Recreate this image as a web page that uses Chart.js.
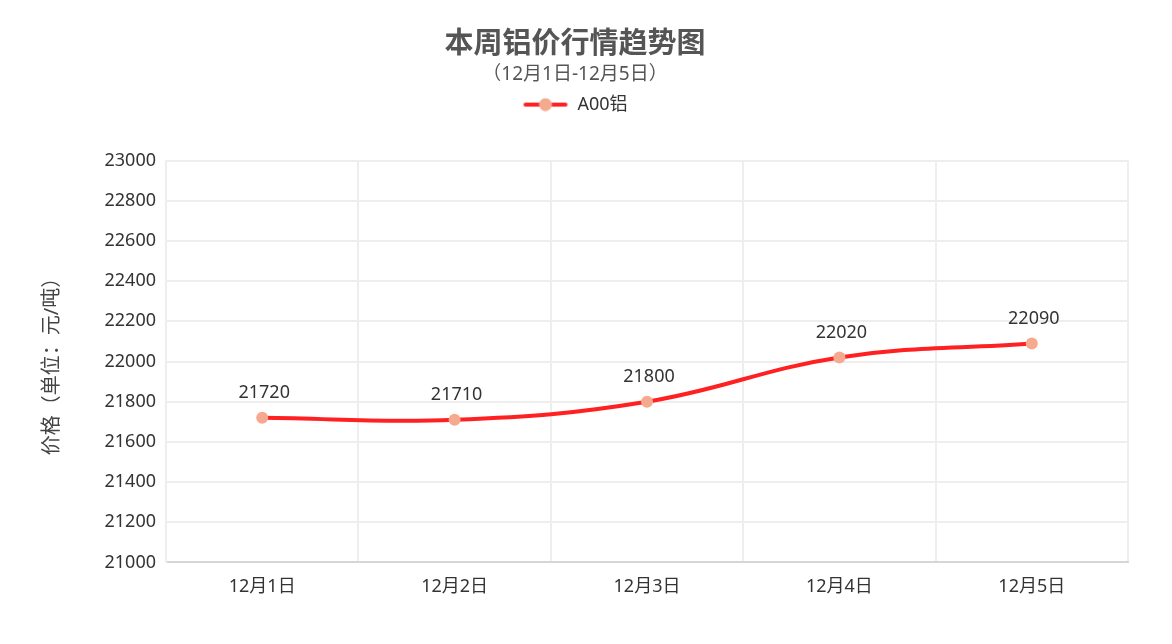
<!DOCTYPE html>
<html>
<head>
<meta charset="utf-8">
<script src="https://cdn.jsdelivr.net/npm/chart.js@4/dist/chart.umd.min.js"></script>
<style>
  html, body { margin: 0; padding: 0; background: #fff; }
  #wrap { width: 1150px; height: 644px; position: relative; }
</style>
</head>
<body>
<div id="wrap"><canvas id="priceChart"></canvas></div>
<script>
"use strict";

const days = ["12月1日", "12月2日", "12月3日", "12月4日", "12月5日"];
const prices = [21720, 21710, 21800, 22020, 22090];
const seriesName = "A00铝";
const yMin = 21000;
const yMax = 23000;
const yStep = 200;

const FONT = "'Noto Sans', 'Noto Sans CJK SC', sans-serif";
const LINE_RED = "#ff2121";
const DOT = "#f5aa90";

// legend marker: short line with a dot in the middle
function legendMarker() {
  const c = document.createElement("canvas");
  c.width = 46;
  c.height = 14;
  const g = c.getContext("2d");
  g.strokeStyle = LINE_RED;
  g.lineWidth = 4;
  g.lineCap = "round";
  g.beginPath();
  g.moveTo(3, 7);
  g.lineTo(43, 7);
  g.stroke();
  g.fillStyle = DOT;
  g.beginPath();
  g.arc(23, 7, 6.5, 0, Math.PI * 2);
  g.fill();
  return c;
}

const valueLabels = {
  id: "valueLabels",
  afterDatasetsDraw(chart) {
    const ctx = chart.ctx;
    const meta = chart.getDatasetMeta(0);
    ctx.save();
    ctx.font = "18px " + FONT;
    ctx.fillStyle = "#333";
    ctx.textAlign = "center";
    ctx.textBaseline = "bottom";
    meta.data.forEach((pt, i) => {
      ctx.fillText(String(prices[i]), pt.x + 2, pt.y - 16);
    });
    ctx.restore();
  }
};

// extra room under the legend so the plot starts lower
const legendGap = {
  id: "legendGap",
  beforeInit(chart) {
    const fit = chart.legend.fit;
    chart.legend.fit = function () {
      fit.call(this);
      this.height += 37;
    };
  }
};

function initPriceChart() {
  const ctx = document.getElementById("priceChart").getContext("2d");
  const marker = legendMarker();

  new Chart(ctx, {
    type: "line",
    data: {
      labels: days,
      datasets: [
        {
          label: seriesName,
          data: prices,
          borderColor: LINE_RED,
          borderWidth: 4,
          tension: 0.4,
          pointRadius: 6,
          pointBackgroundColor: DOT,
          pointBorderWidth: 0,
          pointStyle: "circle",
          fill: false
        },
      ],
    },
    plugins: [valueLabels, legendGap],
    options: {
      responsive: true,
      maintainAspectRatio: false,
      animation: false,
      layout: { padding: { top: 27, left: 22, right: 22, bottom: 32 } },
      plugins: {
        title: {
          display: true,
          text: "本周铝价行情趋势图",
          color: "#555",
          font: { family: FONT, size: 29, weight: "bold" },
          padding: { top: 0, bottom: 1 }
        },
        subtitle: {
          display: true,
          text: "（12月1日-12月5日）",
          color: "#555",
          font: { family: FONT, size: 19 },
          padding: { top: 0, bottom: 0 }
        },
        legend: {
          display: true,
          labels: {
            usePointStyle: true,
            pointStyle: marker,
            pointStyleWidth: 46,
            color: "#333",
            font: { family: FONT, size: 18 },
            padding: 10,
            generateLabels(chart) {
              return [{
                text: seriesName,
                pointStyle: marker,
                fontColor: "#333",
                hidden: false,
                datasetIndex: 0,
                lineWidth: 0
              }];
            }
          }
        },
        tooltip: { enabled: false }
      },
      scales: {
        x: {
          offset: true,
          grid: {
            offset: true,
            color: "#eeeeee",
            lineWidth: 2,
            drawTicks: false
          },
          border: { color: "#d6d6d6", width: 2 },
          ticks: {
            color: "#333",
            font: { family: FONT, size: 18 },
            padding: 14
          }
        },
        y: {
          min: yMin,
          max: yMax,
          grid: { color: "#eeeeee", lineWidth: 2, drawTicks: false },
          border: { color: "#eeeeee", width: 2 },
          ticks: {
            stepSize: yStep,
            color: "#333",
            font: { family: FONT, size: 18 },
            padding: 10,
            callback: v => String(v)
          },
          title: {
            display: true,
            text: "价格（单位：元/吨）",
            color: "#444",
            font: { family: FONT, size: 20 },
            padding: { top: 18, bottom: 0 }
          },
          afterFit(scale) { scale.width = 144; }
        },
      },
    },
  });
}

document.addEventListener("DOMContentLoaded", initPriceChart);
</script>
</body>
</html>
